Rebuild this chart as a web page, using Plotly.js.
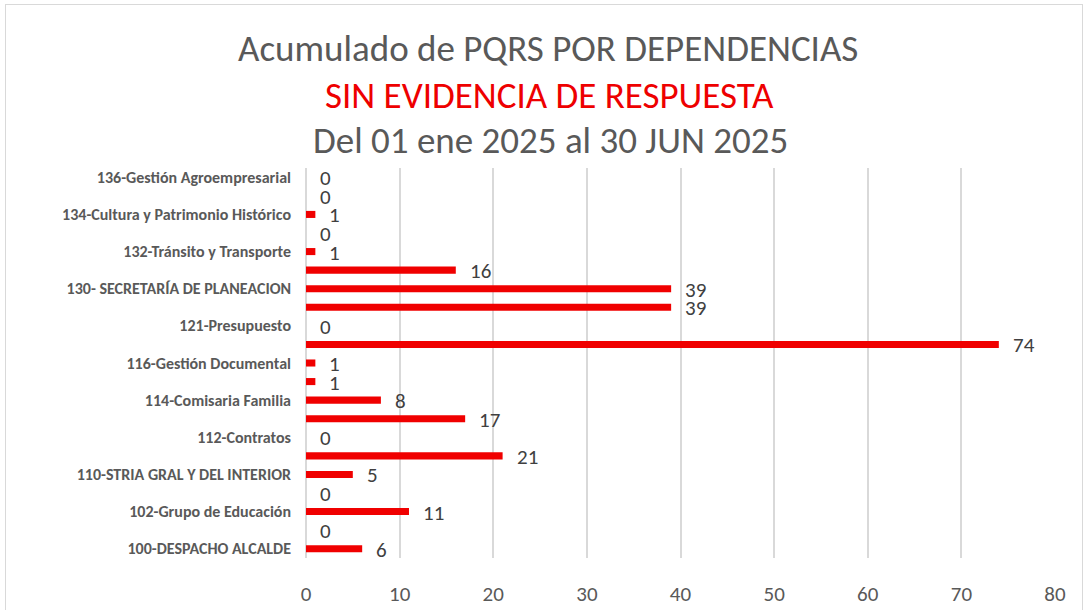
<!DOCTYPE html>
<html>
<head>
<meta charset="utf-8">
<script src="https://cdn.plot.ly/plotly-3.0.1.min.js"></script>
<style>
  html, body { margin: 0; padding: 0; background: #ffffff; }
  #wrap { position: relative; width: 1086px; height: 610px; overflow: hidden; }
  #chart { position: absolute; left: 0; top: 0; width: 1086px; height: 610px; }
  #frame { position: absolute; left: 5px; top: 4px; width: 1076px; height: 620px;
           border: 1.5px solid #d9d9d9; pointer-events: none; }
</style>
</head>
<body>
<div id="wrap">
  <div id="chart"></div>
  <div id="frame"></div>
</div>
<script>
// Categories, bottom to top (every other one is labelled on the axis)
const categories = [
  "100-DESPACHO ALCALDE", "101-Dependencia", "102-Grupo de Educación", "103-Dependencia",
  "110-STRIA GRAL Y DEL INTERIOR", "111-Dependencia", "112-Contratos", "113-Dependencia",
  "114-Comisaria Familia", "115-Dependencia", "116-Gestión Documental", "120-Dependencia",
  "121-Presupuesto", "122-Dependencia", "130- SECRETARÍA DE PLANEACION", "131-Dependencia",
  "132-Tránsito y Transporte", "133-Dependencia", "134-Cultura y Patrimonio Histórico", "135-Dependencia",
  "136-Gestión Agroempresarial"
];
const values = [6, 0, 11, 0, 5, 21, 0, 17, 8, 1, 1, 74, 0, 39, 39, 16, 1, 0, 1, 0, 0];
const labelledCategories = [
  "100-DESPACHO ALCALDE", "102-Grupo de Educación", "110-STRIA GRAL Y DEL INTERIOR",
  "112-Contratos", "114-Comisaria Familia", "116-Gestión Documental", "121-Presupuesto",
  "130- SECRETARÍA DE PLANEACION", "132-Tránsito y Transporte",
  "134-Cultura y Patrimonio Histórico", "136-Gestión Agroempresarial"
];
const xTicks = [0, 10, 20, 30, 40, 50, 60, 70, 80];
const titleLines = [
  "Acumulado de PQRS POR DEPENDENCIAS",
  "SIN EVIDENCIA DE RESPUESTA",
  "Del 01 ene 2025 al 30 JUN 2025"
];

const FONT = "Carlito, Lato, 'Open Sans', sans-serif";
const PLOT_LEFT = 306, PLOT_RIGHT = 1055;
const PLOT_TOP = 168, PLOT_BOTTOM = 558;
const plotH = PLOT_BOTTOM - PLOT_TOP;
const plotW = PLOT_RIGHT - PLOT_LEFT;
function py(pixel) { return 1 + (PLOT_TOP - pixel) / plotH; }
function px(pixel) { return (pixel - PLOT_LEFT) / plotW; }

const trace = {
  type: "bar",
  orientation: "h",
  x: values,
  y: categories,
  marker: { color: "#F00000" },
  hoverinfo: "x+y"
};

const annotations = values.map((v, i) => ({
  x: v, y: categories[i], xref: "x", yref: "y",
  text: String(v), showarrow: false,
  xanchor: "left", yanchor: "middle", xshift: 12, yshift: -1,
  font: { family: FONT, size: 21, color: "#404040" }
}));

const titleYs = [48, 95, 140];
const titleXs = [548, 549, 550];
const titleColors = ["#595959", "#EE0000", "#595959"];
titleLines.forEach((t, i) => {
  annotations.push({
    x: px(titleXs[i]), xref: "paper", y: py(titleYs[i]), yref: "paper",
    xanchor: "center", yanchor: "middle", showarrow: false,
    text: t, font: { family: FONT, size: 37, color: titleColors[i] }
  });
});

const layout = {
  width: 1086, height: 610,
  margin: { l: PLOT_LEFT, r: 1086 - PLOT_RIGHT, t: PLOT_TOP, b: 610 - PLOT_BOTTOM, pad: 0 },
  paper_bgcolor: "#ffffff",
  plot_bgcolor: "#ffffff",
  showlegend: false,
  bargap: 0.62,
  xaxis: {
    range: [0, 80],
    tickvals: xTicks,
    ticktext: xTicks.map(String),
    showgrid: true, gridcolor: "#d9d9d9", gridwidth: 1.5,
    zeroline: true, zerolinecolor: "#d9d9d9", zerolinewidth: 1.5,
    showline: false, ticks: "",
    ticklabelstandoff: 21,
    tickfont: { family: FONT, size: 21, color: "#595959" },
    fixedrange: true
  },
  yaxis: {
    type: "category",
    categoryorder: "array",
    categoryarray: categories,
    range: [-0.5, categories.length - 0.5],
    tickvals: labelledCategories,
    ticktext: labelledCategories,
    showgrid: false, zeroline: false, showline: false, ticks: "",
    ticklabelstandoff: 14,
    tickfont: { family: FONT, size: 16, color: "#595959", weight: "bold" },
    fixedrange: true
  },
  annotations: annotations
};

Plotly.newPlot("chart", [trace], layout, { displayModeBar: false });
</script>
</body>
</html>
